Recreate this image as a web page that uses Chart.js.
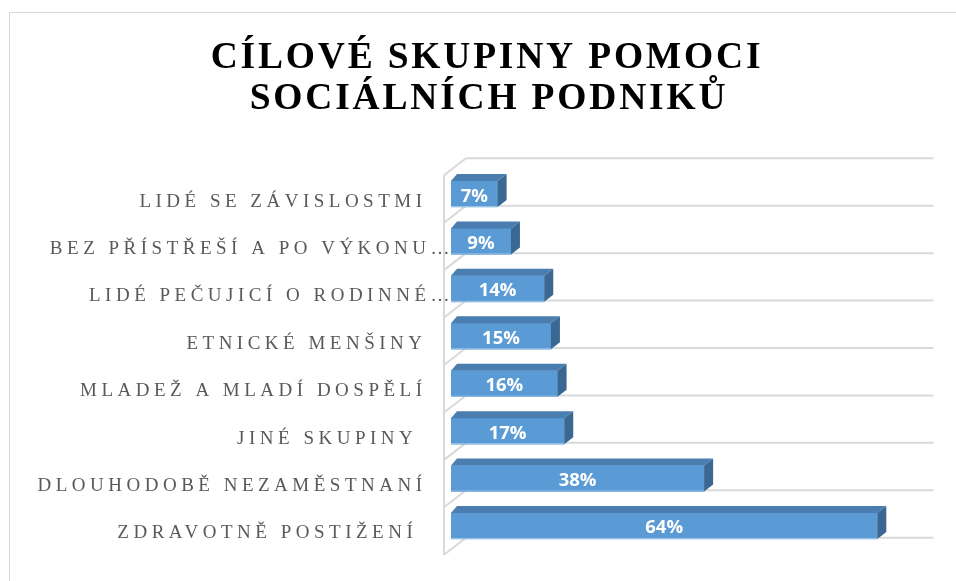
<!DOCTYPE html>
<html>
<head>
<meta charset="utf-8">
<script src="https://cdn.jsdelivr.net/npm/chart.js@4"></script>
<style>
html,body{margin:0;padding:0;background:#fff;}
#wrap{width:956px;height:581px;}
</style>
</head>
<body>
<div id="wrap"><canvas id="c" width="956" height="581"></canvas></div>
<script>
const titleLines = ['CÍLOVÉ SKUPINY POMOCI', 'SOCIÁLNÍCH PODNIKŮ'];
const categories = [
  'LIDÉ SE ZÁVISLOSTMI',
  'BEZ PŘÍSTŘEŠÍ A PO VÝKONU…',
  'LIDÉ PEČUJICÍ O RODINNÉ…',
  'ETNICKÉ MENŠINY',
  'MLADEŽ A MLADÍ DOSPĚLÍ',
  'JINÉ SKUPINY ',
  'DLOUHODOBĚ NEZAMĚSTNANÍ',
  'ZDRAVOTNĚ POSTIŽENÍ '
];
const values = [7, 9, 14, 15, 16, 17, 38, 64];
const valueLabels = ['7%', '9%', '14%', '15%', '16%', '17%', '38%', '64%'];
const axisMin = 0;
const axisMax = 70;

const FRONT = '#5B9BD5';
const TOP = '#4A7DB0';
const SIDE = '#3B6893';
const GRID = '#D9D9D9';

const threeD = {
  id: 'threeD',
  beforeDraw(chart) {
    const ctx = chart.ctx;
    ctx.save();
    ctx.strokeStyle = GRID;
    ctx.lineWidth = 1;
    ctx.strokeRect(9.5, 12.5, 2000, 2000);
    ctx.restore();
  },
  beforeDatasetsDraw(chart) {
    const ctx = chart.ctx;
    const xs = chart.scales.x, ys = chart.scales.y;
    const x0 = xs.getPixelForValue(axisMin), x1 = xs.getPixelForValue(axisMax);
    const n = categories.length;
    ctx.save();
    ctx.strokeStyle = GRID;
    ctx.lineWidth = 2;
    let firstY = null, lastY = null;
    for (let k = 0; k <= n; k++) {
      const fy = ys.getPixelForValue(k - 0.5);
      const by = fy - 12;
      if (k === 0) firstY = by; if (k === n) lastY = by;
      ctx.beginPath();
      ctx.moveTo(x0 + 15, by);
      ctx.lineTo(x1 + 16, by);
      ctx.moveTo(x0 - 7, by + 17);
      ctx.lineTo(x0 + 15, by);
      ctx.stroke();
    }
    ctx.beginPath();
    ctx.moveTo(x0 - 7, firstY + 17);
    ctx.lineTo(x0 - 7, lastY + 17);
    ctx.stroke();
    ctx.restore();
  },
  afterDatasetsDraw(chart) {
    const ctx = chart.ctx;
    const meta = chart.getDatasetMeta(0);
    const xs = chart.scales.x, ys = chart.scales.y;
    const x0 = xs.getPixelForValue(axisMin);
    ctx.save();
    meta.data.forEach((bar, i) => {
      const p = bar.getProps(['x', 'y', 'base', 'height'], true);
      const top = p.y - p.height / 2, bot = p.y + p.height / 2;
      const L = p.base, R = p.x;
      ctx.fillStyle = TOP;
      ctx.beginPath();
      ctx.moveTo(L, top);
      ctx.lineTo(R, top);
      ctx.lineTo(R + 9, top - 7);
      ctx.lineTo(L + 6, top - 7);
      ctx.closePath();
      ctx.fill();
      ctx.fillStyle = SIDE;
      ctx.beginPath();
      ctx.moveTo(R, top);
      ctx.lineTo(R + 9, top - 7);
      ctx.lineTo(R + 9, bot - 7);
      ctx.lineTo(R, bot);
      ctx.closePath();
      ctx.fill();
      ctx.fillStyle = '#9DC3E6';
      ctx.fillRect(L, bot - 1, R - L, 1);
      ctx.letterSpacing = '0px';
      ctx.fillStyle = '#FFFFFF';
      ctx.font = 'bold 18.5px "Open Sans"';
      ctx.textAlign = 'center';
      ctx.textBaseline = 'alphabetic';
      ctx.fillText(valueLabels[i], (L + R) / 2, p.y + 7.5);
    });
    ctx.fillStyle = '#595959';
    ctx.font = '19px "Liberation Serif"';
    ctx.letterSpacing = '4.5px';
    ctx.textAlign = 'right';
    ctx.textBaseline = 'alphabetic';
    categories.forEach((lab, i) => {
      const y = ys.getPixelForValue(i);
      const right = lab.endsWith('…') ? x0 + 3 : x0 - 24.5;
      ctx.fillText(lab, right, y + 12.5);
    });
    ctx.letterSpacing = '0px';
    ctx.restore();
  },
  afterDraw(chart) {
    const ctx = chart.ctx;
    ctx.save();
    ctx.fillStyle = '#000000';
    ctx.font = 'bold 37.5px "Liberation Serif"';
    ctx.letterSpacing = '2.8px';
    ctx.textAlign = 'center';
    ctx.textBaseline = 'alphabetic';
    ctx.fillText(titleLines[0], 487, 68);
    ctx.fillText(titleLines[1], 489, 109);
    ctx.letterSpacing = '0px';
    ctx.restore();
  }
};

new Chart(document.getElementById('c'), {
  type: 'bar',
  data: {
    labels: categories,
    datasets: [{
      data: values,
      backgroundColor: FRONT,
      borderWidth: 0,
      barThickness: 26
    }]
  },
  options: {
    indexAxis: 'y',
    responsive: false,
    animation: false,
    devicePixelRatio: 1,
    layout: { padding: { left: 451, right: 38.7, top: 170.3, bottom: 31.3 } },
    scales: {
      x: { display: false, min: axisMin, max: axisMax },
      y: { display: false }
    },
    plugins: {
      legend: { display: false },
      tooltip: { enabled: false },
      title: { display: false }
    }
  },
  plugins: [threeD]
});
</script>
</body>
</html>
